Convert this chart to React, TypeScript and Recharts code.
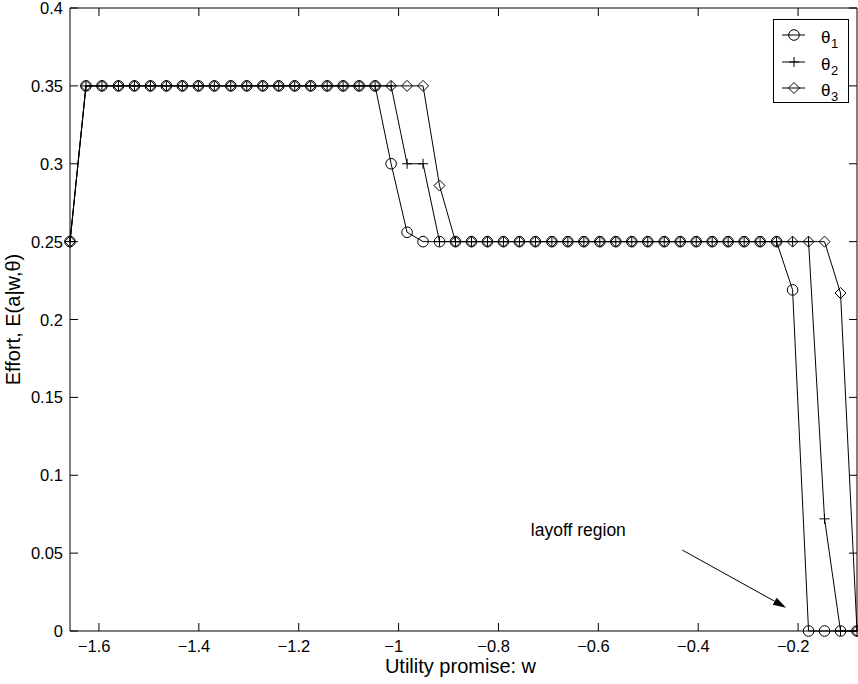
import {
  LineChart,
  Line,
  XAxis,
  YAxis,
  Legend,
  Label,
  ReferenceArea,
  ReferenceLine,
  ReferenceDot,
} from "recharts";

// utility promise grid
const W = [
  -1.658, -1.626, -1.594, -1.561, -1.529, -1.497, -1.465, -1.433, -1.401, -1.369,
  -1.336, -1.304, -1.272, -1.24, -1.208, -1.176, -1.143, -1.111, -1.079, -1.047,
  -1.015, -0.983, -0.951, -0.918, -0.886, -0.854, -0.822, -0.79, -0.758, -0.726,
  -0.693, -0.661, -0.629, -0.597, -0.565, -0.533, -0.501, -0.468, -0.436, -0.404,
  -0.372, -0.34, -0.308, -0.276, -0.243, -0.211, -0.179, -0.147, -0.115, -0.082,
];

const THETA1 = [
  0.25, 0.35, 0.35, 0.35, 0.35, 0.35, 0.35, 0.35, 0.35, 0.35,
  0.35, 0.35, 0.35, 0.35, 0.35, 0.35, 0.35, 0.35, 0.35, 0.35,
  0.3, 0.256, 0.25, 0.25, 0.25, 0.25, 0.25, 0.25, 0.25, 0.25,
  0.25, 0.25, 0.25, 0.25, 0.25, 0.25, 0.25, 0.25, 0.25, 0.25,
  0.25, 0.25, 0.25, 0.25, 0.25, 0.219, 0, 0, 0, 0,
];

const THETA2 = [
  0.25, 0.35, 0.35, 0.35, 0.35, 0.35, 0.35, 0.35, 0.35, 0.35,
  0.35, 0.35, 0.35, 0.35, 0.35, 0.35, 0.35, 0.35, 0.35, 0.35,
  0.35, 0.3, 0.3, 0.25, 0.25, 0.25, 0.25, 0.25, 0.25, 0.25,
  0.25, 0.25, 0.25, 0.25, 0.25, 0.25, 0.25, 0.25, 0.25, 0.25,
  0.25, 0.25, 0.25, 0.25, 0.25, 0.25, 0.25, 0.072, 0, 0,
];

const THETA3 = [
  0.25, 0.35, 0.35, 0.35, 0.35, 0.35, 0.35, 0.35, 0.35, 0.35,
  0.35, 0.35, 0.35, 0.35, 0.35, 0.35, 0.35, 0.35, 0.35, 0.35,
  0.35, 0.35, 0.35, 0.286, 0.25, 0.25, 0.25, 0.25, 0.25, 0.25,
  0.25, 0.25, 0.25, 0.25, 0.25, 0.25, 0.25, 0.25, 0.25, 0.25,
  0.25, 0.25, 0.25, 0.25, 0.25, 0.25, 0.25, 0.25, 0.217, 0,
];

const X_TICKS = [-1.6, -1.4, -1.2, -1, -0.8, -0.6, -0.4, -0.2];
const Y_TICKS = [0, 0.05, 0.1, 0.15, 0.2, 0.25, 0.3, 0.35, 0.4];
const X_DOMAIN = [-1.658, -0.082];
const Y_DOMAIN = [0, 0.4];

// annotation anchors (data units)
const NOTE_AT = { x: -0.64, y: 0.065 };
const ARROW_FROM = { x: -0.432, y: 0.052 };
const ARROW_TO = { x: -0.224, y: 0.015 };

const data = W.map((w, i) => ({ w, t1: THETA1[i], t2: THETA2[i], t3: THETA3[i] }));

const FONT = "'Liberation Sans', Arial, Helvetica, sans-serif";
const TOP = 8;
const BOTTOM = 631;
const LEFT = 70;
const RIGHT = 857;
const TICK = 8;
const TICK_FONT = 16.5;
const LABEL_FONT = 20;

const fmt = (v: number) => (v < 0 ? "\u2212" + String(-v) : String(v));

function XTick(props: any) {
  const { x, payload } = props;
  const v = payload.value;
  // digits sit centred on the tick, the minus sign hangs to the left
  const shift = v < 0 ? TICK_FONT * 0.292 : 0;
  return (
    <g>
      <line x1={x} x2={x} y1={BOTTOM} y2={BOTTOM - TICK} stroke="#000" />
      <line x1={x} x2={x} y1={TOP} y2={TOP + TICK} stroke="#000" />
      <text
        x={x - shift}
        y={BOTTOM + 21}
        textAnchor="middle"
        fontSize={TICK_FONT}
        fontFamily={FONT}
        fill="#000"
      >
        {fmt(v)}
      </text>
    </g>
  );
}

function YTick(props: any) {
  const { y, payload } = props;
  return (
    <g>
      <line x1={LEFT} x2={LEFT + TICK} y1={y} y2={y} stroke="#000" />
      <line x1={RIGHT} x2={RIGHT - TICK} y1={y} y2={y} stroke="#000" />
      <text x={LEFT - 7} y={y + 6} textAnchor="end" fontSize={TICK_FONT} fontFamily={FONT} fill="#000">
        {fmt(payload.value)}
      </text>
    </g>
  );
}

function marker(kind: string, cx: number, cy: number, key?: string) {
  if (kind === "circle") {
    return <circle key={key} cx={cx} cy={cy} r={5.3} fill="none" stroke="#000" strokeWidth={1} />;
  }
  if (kind === "plus") {
    return (
      <path
        key={key}
        d={`M${cx - 5},${cy}H${cx + 5}M${cx},${cy - 5}V${cy + 5}`}
        fill="none"
        stroke="#000"
        strokeWidth={1}
      />
    );
  }
  return (
    <path
      key={key}
      d={`M${cx},${cy - 5.5}L${cx + 5.5},${cy}L${cx},${cy + 5.5}L${cx - 5.5},${cy}Z`}
      fill="none"
      stroke="#000"
      strokeWidth={1}
    />
  );
}

const dotOf = (kind: string) => (p: any) => marker(kind, p.cx, p.cy, `${kind}-${p.index}`);

const SERIES = [
  { key: "t1", sub: "1", kind: "circle" },
  { key: "t2", sub: "2", kind: "plus" },
  { key: "t3", sub: "3", kind: "diamond" },
];

function LegendBox() {
  const rows = [16, 43, 69];
  return (
    <svg width={76} height={84} style={{ display: "block" }}>
      <rect x={0.5} y={0.5} width={75} height={83} fill="#fff" stroke="#000" />
      {SERIES.map((s, i) => (
        <g key={s.key}>
          <line x1={9} x2={32} y1={rows[i]} y2={rows[i]} stroke="#000" />
          {marker(s.kind, 21, rows[i])}
          <text x={48} y={rows[i] + 8} fontSize={17} fontFamily={FONT} fill="#000">
            θ
          </text>
          <text x={58} y={rows[i] + 13} fontSize={13} fontFamily={FONT} fill="#000">
            {s.sub}
          </text>
        </g>
      ))}
    </svg>
  );
}

function Arrow(p: any) {
  const { x1, y1, x2, y2 } = p;
  const a = Math.atan2(y2 - y1, x2 - x1);
  const len = 13;
  const half = 4;
  const bx = x2 - len * Math.cos(a);
  const by = y2 - len * Math.sin(a);
  const pts = [
    `${x2},${y2}`,
    `${bx - half * Math.sin(a)},${by + half * Math.cos(a)}`,
    `${bx + half * Math.sin(a)},${by - half * Math.cos(a)}`,
  ].join(" ");
  return (
    <g>
      <line x1={x1} y1={y1} x2={bx} y2={by} stroke="#000" strokeWidth={1} />
      <polygon points={pts} fill="#000" />
    </g>
  );
}

function Note(p: any) {
  return (
    <text x={p.cx} y={p.cy + 6} textAnchor="middle" fontSize={17.5} fontFamily={FONT} fill="#000">
      layoff region
    </text>
  );
}

export default function App() {
  return (
    <div style={{ position: "absolute", left: 0, top: 0, background: "#fff" }}>
      <LineChart
        width={858}
        height={684}
        data={data}
        margin={{ top: TOP, right: 1, bottom: 0, left: 0 }}
        style={{ fontFamily: FONT }}
      >
        <XAxis
          dataKey="w"
          type="number"
          domain={X_DOMAIN}
          ticks={X_TICKS}
          interval={0}
          height={53}
          axisLine={false}
          tickLine={false}
          tickSize={0}
          tickMargin={0}
          tick={XTick}
        >
          <Label
            content={(p: any) => (
              <text
                x={p.viewBox.x + p.viewBox.width / 2 - 3}
                y={p.viewBox.y + 42}
                textAnchor="middle"
                fontSize={LABEL_FONT}
                fontFamily={FONT}
                fill="#000"
              >
                Utility promise: w
              </text>
            )}
          />
        </XAxis>
        <YAxis
          type="number"
          domain={Y_DOMAIN}
          ticks={Y_TICKS}
          interval={0}
          width={70}
          axisLine={false}
          tickLine={false}
          tickSize={0}
          tickMargin={0}
          tick={YTick}
        >
          <Label
            content={(p: any) => {
              const cx = p.viewBox.x + 13;
              const cy = p.viewBox.y + p.viewBox.height / 2;
              return (
                <text
                  x={cx}
                  y={cy}
                  transform={`rotate(-90 ${cx} ${cy})`}
                  textAnchor="middle"
                  dominantBaseline="central"
                  fontSize={LABEL_FONT}
                  fontFamily={FONT}
                  fill="#000"
                >
                  Effort, E(a|w,θ)
                </text>
              );
            }}
          />
        </YAxis>
        <ReferenceArea
          x1={X_DOMAIN[0]}
          x2={X_DOMAIN[1]}
          y1={Y_DOMAIN[0]}
          y2={Y_DOMAIN[1]}
          fill="none"
          fillOpacity={0}
          stroke="#000"
          strokeWidth={1}
          strokeOpacity={1}
        />
        {SERIES.map((s) => (
          <Line
            key={s.key}
            dataKey={s.key}
            stroke="#000"
            strokeWidth={1}
            dot={dotOf(s.kind)}
            activeDot={false}
            isAnimationActive={false}
          />
        ))}
        <ReferenceLine segment={[ARROW_FROM, ARROW_TO]} shape={Arrow} />
        <ReferenceDot x={NOTE_AT.x} y={NOTE_AT.y} r={0} shape={Note} />
        <Legend
          layout="vertical"
          align="center"
          verticalAlign="middle"
          wrapperStyle={{ position: "absolute", left: 773, top: 19, width: 76, height: 84 }}
          content={LegendBox}
        />
      </LineChart>
    </div>
  );
}
